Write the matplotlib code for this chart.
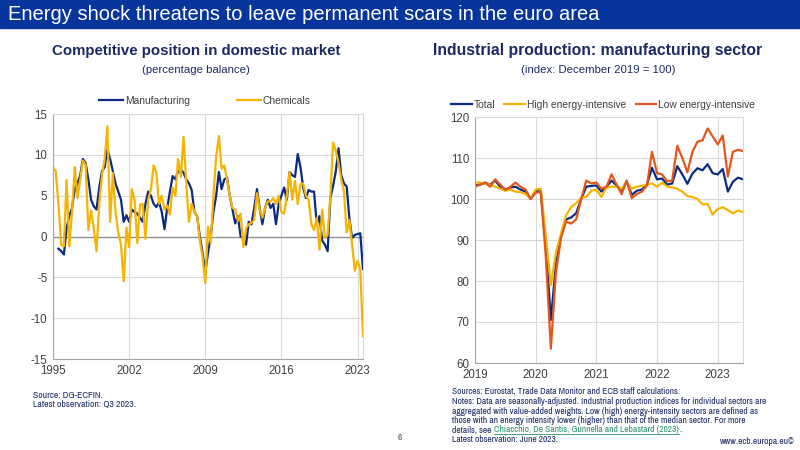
import numpy as np
import matplotlib
matplotlib.use("Agg")
import matplotlib.pyplot as plt
from matplotlib.lines import Line2D

plt.rcParams['font.family'] = ['Liberation Sans', 'DejaVu Sans']
plt.rcParams['axes.unicode_minus'] = False

nan = np.nan

# left chart: quarterly, 1995 Q1 - 2023 Q3
manufacturing = [
    nan, nan, -1.5, -1.8,    # 1995
    -2.2, 1.0, 2.5, 3.5,     # 1996
    5.8, 6.5, 7.5, 9.5,      # 1997
    9.0, 7.0, 4.5, 3.7,      # 1998
    3.3, 6.0, 8.0, 8.5,      # 1999
    10.7, 9.5, 8.0, 6.5,     # 2000
    5.5, 4.5, 1.8, 2.6,      # 2001
    1.8, 3.3, 3.0, 2.8,      # 2002
    2.3, 1.8, 4.0, 5.5,      # 2003
    5.0, 4.0, 3.6, 4.2,      # 2004
    3.0, 0.9, 3.5, 5.5,      # 2005
    7.4, 7.0, 8.0, 8.2,      # 2006
    7.8, 7.0, 6.5, 5.7,      # 2007
    3.0, 2.5, 0.0, -2.0,     # 2008
    -4.4, -2.0, 0.0, 3.0,    # 2009
    5.0, 7.9, 5.8, 7.0,      # 2010
    7.2, 5.0, 3.3, 1.6,      # 2011
    2.5, 0.0, -0.2, -1.0,    # 2012
    1.8, 1.5, 3.5, 5.8,      # 2013
    3.5, 1.5, 3.5, 4.5,      # 2014
    3.5, 4.0, 1.5, 4.0,      # 2015
    5.0, 6.0, 4.5, 7.9,      # 2016
    7.5, 7.3, 10.1, 8.5,     # 2017
    6.0, 4.7, 5.7, 5.5,      # 2018
    5.5, 1.5, 2.5, -0.5,     # 2019
    -1.0, -1.8, 4.7, 6.2,    # 2020
    8.0, 10.8, 7.5, 6.5,     # 2021
    6.1, 2.2, -0.2, 0.2,     # 2022
    0.3, 0.4, -4.0,          # 2023
]
chemicals = [
    8.5, 8.0, 4.0, -1.0,     # 1995
    -1.2, 6.9, -1.2, 3.0,    # 1996
    8.5, 4.7, 7.0, 9.3,      # 1997
    8.8, 0.8, 3.2, 1.0,      # 1998
    -1.8, 4.0, 7.5, 9.5,     # 1999
    13.5, 1.8, 7.8, 3.0,     # 2000
    0.5, -1.0, -5.5, 1.1,    # 2001
    -1.3, 5.8, 4.5, -0.8,    # 2002
    3.9, 4.0, -0.3, 4.5,     # 2003
    5.8, 8.7, 7.8, 4.0,      # 2004
    5.0, 3.3, 3.8, 2.7,      # 2005
    6.0, 5.0, 9.5, 7.3,      # 2006
    12.2, 6.5, 1.8, 4.0,     # 2007
    3.0, 2.5, -0.5, -2.5,    # 2008
    -5.7, 1.2, -0.8, 5.0,    # 2009
    9.8, 12.3, 8.3, 8.7,     # 2010
    7.0, 5.0, 3.5, 3.3,      # 2011
    1.9, 2.8, -1.3, 1.0,     # 2012
    1.5, 1.7, 2.0, 5.3,      # 2013
    3.3, 2.3, 3.5, 4.3,      # 2014
    4.3, 4.7, 4.0, 5.0,      # 2015
    3.0, 2.8, 5.0, 7.9,      # 2016
    4.5, 6.8, 4.0, 6.4,      # 2017
    6.5, 5.0, 4.5, 1.5,      # 2018
    0.8, 2.3, -1.6, 3.3,     # 2019
    -0.2, 0.2, 5.0, 11.5,    # 2020
    10.5, 9.0, 7.0, 5.5,     # 2021
    0.5, 2.0, -1.0, -4.2,    # 2022
    -3.0, -4.0, -12.2,       # 2023
]
left_ticks = [1995, 2002, 2009, 2016, 2023]

# right chart: monthly, Jan 2019 - Jun 2023
total = [
    103.3, 103.5, 104.0, 103.5, 104.5, 103.0, 102.3, 102.8, 103.0, 102.3, 101.8, 100.0,
    102.0, 101.8, 89.0, 70.5, 84.0, 91.0, 95.0, 95.5, 96.5, 100.0, 103.0, 103.2,
    103.3, 101.8, 103.0, 104.5, 103.3, 102.0, 104.3, 101.0, 102.0, 102.3, 103.5, 107.6,
    104.8, 105.0, 103.5, 103.8, 108.0, 106.0, 103.7, 106.2, 107.5, 107.0, 108.5, 106.3,
    106.0, 107.3, 101.8, 104.2, 105.2, 104.8,
]
high_energy = [
    104.0, 104.0, 103.8, 103.5, 103.0, 102.5, 102.0, 102.3, 101.8, 101.7, 101.2, 100.0,
    102.3, 102.5, 91.0, 79.0, 87.0, 91.5, 96.0, 98.0, 99.0, 100.3, 100.5, 102.0,
    102.3, 100.5, 102.8, 103.0, 103.0, 102.5, 104.0, 102.5, 103.0, 103.2, 103.5, 103.8,
    103.0, 104.0, 103.0, 102.8, 102.5, 101.8, 100.7, 100.5, 100.0, 98.7, 98.8, 96.2,
    97.5, 98.0, 97.3, 96.5, 97.2, 96.8,
]
low_energy = [
    103.0, 103.5, 104.0, 103.0, 104.8, 103.5, 102.2, 103.0, 104.0, 103.0, 102.3, 100.0,
    101.5, 101.8, 86.0, 63.5, 82.0, 90.5, 94.5, 94.0, 95.0, 100.0, 104.5, 103.8,
    104.0, 102.5, 103.0, 106.0, 103.5, 101.2, 104.5, 100.2, 101.2, 101.8, 103.3, 111.5,
    106.3, 106.0, 104.3, 104.5, 113.0, 110.0, 106.5, 111.5, 114.0, 114.3, 117.2, 115.3,
    113.3, 115.5, 105.5, 111.5, 112.0, 111.7,
]
right_ticks = [2019, 2020, 2021, 2022, 2023]

NAVY = '#0b2a84'
YELLOW = '#f4b400'
ORANGE = '#e4571c'
TEXT = '#1c2a63'
GRID = '#d9d9d9'
LINK = '#2f8f6f'
NARROW = ['Archivo Narrow', 'Liberation Sans', 'DejaVu Sans']


def style_axes(ax):
    ax.grid(True, color=GRID, linewidth=0.8)
    ax.set_axisbelow(True)
    for side in ['top', 'right']:
        ax.spines[side].set_color(GRID)
    for side in ['left', 'bottom']:
        ax.spines[side].set_color('#a6a6a6')
    ax.tick_params(length=0, labelsize=8.3, colors='#404040', pad=4)


def fit_width(t, width_px):
    # scale the font so the text spans about width_px pixels
    r = fig.canvas.get_renderer()
    w = t.get_window_extent(r).width
    t.set_fontsize(t.get_fontsize() * width_px / w)
    return t.get_fontsize()


fig = plt.figure(figsize=(8, 4.5), dpi=100)

# banner
fig.patches.append(plt.Rectangle((0, 1 - 28 / 450), 1, 28 / 450, transform=fig.transFigure,
                                 color='#07359c', zorder=0))
t = fig.text(8 / 800, 1 - 14 / 450, 'Energy shock threatens to leave permanent scars in the euro area',
             color='white', fontsize=14.5, va='center', ha='left')
fit_width(t, 592)

# left chart
qx = 1995 + np.arange(len(chemicals)) / 4
ax1 = fig.add_axes([53 / 800, 1 - 359 / 450, 310 / 800, 245 / 450])
style_axes(ax1)
l1, = ax1.plot(qx, manufacturing, color=NAVY, lw=1.6, label='Manufacturing')
l2, = ax1.plot(qx, chemicals, color=YELLOW, lw=1.6, label='Chemicals')
ax1.axhline(0, color='#8c8c8c', lw=0.9, zorder=1.5)
ax1.set_xlim(1995, qx[-1])
ax1.set_ylim(-15, 15)
ax1.set_yticks(range(-15, 16, 5))
ax1.set_xticks(left_ticks)
fig.legend(handles=[l1, l2], loc='center left', bbox_to_anchor=(99 / 800, 1 - 101 / 450),
           ncol=2, frameon=False, fontsize=7.4, handlelength=2.3, handletextpad=0.2,
           columnspacing=4.6, borderpad=0, borderaxespad=0, labelcolor='#404040')

t = fig.text(196 / 800, 1 - 51 / 450, 'Competitive position in domestic market', ha='center', va='center',
             fontsize=11, fontweight='bold', color=TEXT)
fit_width(t, 291)
fig.text(196 / 800, 1 - 70 / 450, '(percentage balance)', ha='center', va='center',
         fontsize=8.2, color=TEXT)

# right chart
mx = 2019 + np.arange(len(total)) / 12
ax2 = fig.add_axes([475 / 800, 1 - 363 / 450, 268 / 800, 246 / 450])
style_axes(ax2)
r1, = ax2.plot(mx, total, color=NAVY, lw=1.6, label='Total')
r2, = ax2.plot(mx, high_energy, color=YELLOW, lw=1.6, label='High energy-intensive')
r3, = ax2.plot(mx, low_energy, color=ORANGE, lw=1.6, label='Low energy-intensive')
ax2.set_xlim(2019, mx[-1])
ax2.set_ylim(60, 120)
ax2.set_yticks(range(60, 121, 10))
ax2.set_xticks(right_ticks)
fig.legend(handles=[r1, r2, r3], loc='center left', bbox_to_anchor=(451 / 800, 1 - 105 / 450),
           ncol=3, frameon=False, fontsize=7.4, handlelength=2.0, handletextpad=0.2,
           columnspacing=0.9, borderpad=0, borderaxespad=0, labelcolor='#404040')

t = fig.text(598 / 800, 1 - 51 / 450, 'Industrial production: manufacturing sector', ha='center', va='center',
             fontsize=11, fontweight='bold', color=TEXT)
fit_width(t, 328)
fig.text(598 / 800, 1 - 70 / 450, '(index: December 2019 = 100)', ha='center', va='center',
         fontsize=8.2, color=TEXT)

# footnotes, left
t = fig.text(33 / 800, 1 - 404 / 450, 'Latest observation: Q3 2023.', fontsize=6.5, color=TEXT,
             va='center', family=NARROW)
fs_left = fit_width(t, 102)
fig.text(33 / 800, 1 - 395 / 450, 'Source: DG-ECFIN.', fontsize=fs_left, color=TEXT, va='center',
         family=NARROW)

# footnotes, right
notes = [
    'Sources: Eurostat, Trade Data Monitor and ECB staff calculations.',
    'Notes: Data are seasonally-adjusted. Industrial production indices for individual sectors are',
    'aggregated with value-added weights. Low (high) energy-intensity sectors are defined as',
    'those with an energy intensity lower (higher) than that of the median sector. For more',
]
note_y = [391, 401.5, 411, 420.5, 430, 439.5]
texts = []
for i, line in enumerate(notes):
    texts.append(fig.text(452 / 800, 1 - note_y[i] / 450, line, fontsize=6.5, color=TEXT,
                          va='center', family=NARROW))
fs = fit_width(texts[1], 314)
for tx in texts:
    tx.set_fontsize(fs)

y_det = 1 - note_y[4] / 450
t_det = fig.text(452 / 800, y_det, 'details, see', fontsize=fs, color=TEXT, va='center', family=NARROW)
fig.text(452 / 800, 1 - note_y[5] / 450, 'Latest observation: June 2023.', fontsize=fs,
         color=TEXT, va='center', family=NARROW)
fig.text(400 / 800, 1 - 438 / 450, '6', fontsize=fs, color='#595959', va='center', ha='center',
         family=NARROW)
fig.text(795 / 800, 1 - 442 / 450, 'www.ecb.europa.eu\u00a9', fontsize=fs, color=TEXT, va='center',
         ha='right', family=NARROW)

# link text after "details, see", underlined
r = fig.canvas.get_renderer()
bb = t_det.get_window_extent(r)
t_link = fig.text((bb.x1 + 3) / fig.bbox.width, y_det, 'Chiacchio, De Santis, Gunnella and Lebastard (2023)',
                  fontsize=fs, color=LINK, va='center', family=NARROW)
lb = t_link.get_window_extent(r)
fig.text(lb.x1 / fig.bbox.width, y_det, '.', fontsize=fs, color=TEXT, va='center', family=NARROW)
uy = (lb.y0 + 0.8) / fig.bbox.height
fig.add_artist(Line2D([lb.x0 / fig.bbox.width, lb.x1 / fig.bbox.width], [uy, uy],
                      transform=fig.transFigure, color=LINK, lw=0.6))

fig.savefig('out.png', dpi=100)
